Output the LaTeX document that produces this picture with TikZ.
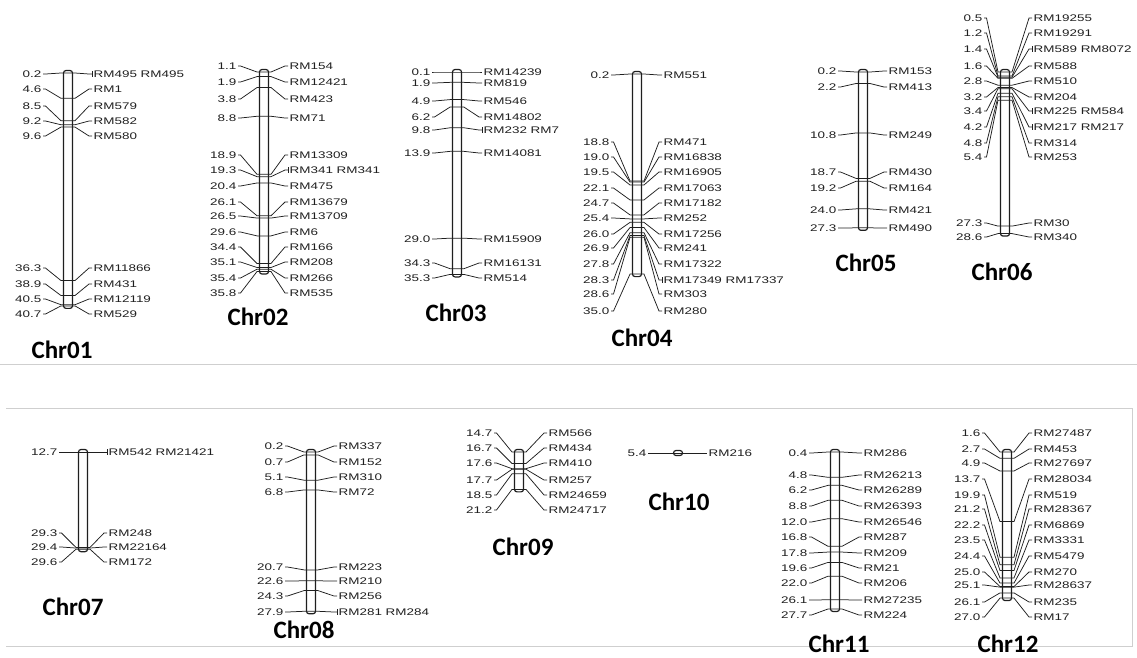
\documentclass[tikz,border=0pt]{standalone}
\usepackage{fontspec}
\newfontfamily\markfont[FakeStretch=1.4]{Liberation Sans}
\newfontfamily\chrfont{Carlito}
\usepackage{xcolor}
\definecolor{ink}{HTML}{1F1F1F}
\definecolor{panelgray}{HTML}{CFCFCF}
\usetikzlibrary{calc}

\tikzset{
	chrbar/.style={draw=ink, line width=1.2pt, fill=white, rounded corners=2.5pt},
	maplink/.style={draw=ink, line width=0.75pt},
	cmlabel/.style={font=\markfont\fontsize{9.6}{10}\selectfont, text=ink, inner sep=1.5pt, anchor=east},
	rmlabel/.style={font=\markfont\fontsize{9.6}{10}\selectfont, text=ink, inner sep=1.5pt, anchor=west},
	chrname/.style={font=\chrfont\bfseries\fontsize{25}{28}\selectfont, text=black, inner sep=0pt}
}

% #1 id, #2 bar x, #3 cM labels right edge, #4 marker labels left edge,
% #5 y of first marker, #6 first cM, #7 last cM, #8 cM/label y/marker/tick
\newcommand{\linkmap}[8]{%
	\pgfmathsetmacro\ybot{#5+5.75*(#7-#6)}
	\draw[chrbar] (#2-4.5,#5-2.5) rectangle (#2+4.5,\ybot+2.5);
	\foreach \vcm/\vly/\vname/\vtick [count=\i] in {#8} {
		\pgfmathsetmacro\my{#5+5.75*(\vcm-#6)}
		\node[cmlabel] (#1n\i) at (#3,\vly) {\vcm};
		\node[rmlabel] (#1m\i) at (#4,\vly) {\vname};
		\draw[maplink] (#1n\i.east) -- ++(2.5,0) -- (#2-7,\my) -- (#2+7,\my) -- ([xshift=-3pt]#1m\i.west) -- (#1m\i.west);
		\ifnum\vtick=1
			\draw[maplink] ([yshift=3pt]#1m\i.west) -- ([yshift=-3pt]#1m\i.west);
		\fi
	}
}

\begin{document}
\begin{tikzpicture}[x=1pt, y=-1pt]
	\useasboundingbox (0,0) rectangle (1137,657);

	% Panel rules
	\draw[panelgray, line width=0.8pt] (0,364) -- (1137,364);
	\draw[panelgray, line width=0.8pt] (6,408) -- (1132,408) -- (1132,646) -- (6,646);

	% Upper row
	\linkmap{c01}{68}{43}{92}{73}{0.2}{40.7}{0.2/74/{RM495 RM495}/1, 4.6/89/RM1/0, 8.5/106/RM579/0, 9.2/121/RM582/0, 9.6/136/RM580/0, 36.3/268/RM11866/0, 38.9/284/RM431/0, 40.5/299/RM12119/0, 40.7/314/RM529/0}
	\linkmap{c02}{264}{238}{288}{72}{1.1}{35.8}{1.1/66/RM154/0, 1.9/82/RM12421/0, 3.8/99/RM423/0, 8.8/118/RM71/0, 18.9/155/RM13309/0, 19.3/170/{RM341 RM341}/1, 20.4/186/RM475/0, 26.1/202/RM13679/0, 26.5/216/RM13709/0, 29.6/232/RM6/0, 34.4/247/RM166/0, 35.1/262/RM208/0, 35.4/278/RM266/0, 35.8/293/RM535/0}
	\linkmap{c03}{457}{432}{482}{72}{0.1}{35.3}{0.1/72/RM14239/0, 1.9/83/RM819/0, 4.9/101/RM546/0, 6.2/117/RM14802/0, 9.8/130/{RM232 RM7}/1, 13.9/153/RM14081/0, 29.0/239/RM15909/0, 34.3/263/RM16131/0, 35.3/278/RM514/0}
	\linkmap{c04}{637}{611}{662}{74}{0.2}{35.0}{0.2/75/RM551/0, 18.8/142/RM471/0, 19.0/157/RM16838/0, 19.5/172/RM16905/0, 22.1/188/RM17063/0, 24.7/203/RM17182/0, 25.4/218/RM252/0, 26.0/234/RM17256/0, 26.9/248/RM241/0, 27.8/264/RM17322/0, 28.3/280/{RM17349 RM17337}/1, 28.6/294/RM303/0, 35.0/311/RM280/0}
	\linkmap{c05}{863}{838}{887}{72}{0.2}{27.3}{0.2/71/RM153/0, 2.2/87/RM413/0, 10.8/135/RM249/0, 18.7/172/RM430/0, 19.2/188/RM164/0, 24.0/210/RM421/0, 27.3/228/RM490/0}
	\linkmap{c06}{1005}{984}{1032}{72}{0.5}{28.6}{0.5/18/RM19255/0, 1.2/33/RM19291/0, 1.4/49/{RM589 RM8072}/1, 1.6/66/RM588/0, 2.8/81/RM510/0, 3.2/97/RM204/0, 3.4/111/{RM225 RM584}/1, 4.2/127/{RM217 RM217}/1, 4.8/143/RM314/0, 5.4/157/RM253/0, 27.3/223/RM30/0, 28.6/237/RM340/0}

	% Lower row
	\linkmap{c07}{83}{59}{107}{452}{12.7}{29.6}{12.7/452/{RM542 RM21421}/1, 29.3/533/RM248/0, 29.4/547/RM22164/0, 29.6/562/RM172/0}
	\linkmap{c08}{311}{285}{337}{452}{0.2}{27.9}{0.2/446/RM337/0, 0.7/462/RM152/0, 5.1/477/RM310/0, 6.8/492/RM72/0, 20.7/567/RM223/0, 22.6/581/RM210/0, 24.3/596/RM256/0, 27.9/612/{RM281 RM284}/1}
	\linkmap{c09}{519}{494}{547}{452}{14.7}{21.2}{14.7/433/RM566/0, 16.7/448/RM434/0, 17.6/463/RM410/0, 17.7/480/RM257/0, 18.5/495/RM24659/0, 21.2/510/RM24717/0}
	\linkmap{c10}{678}{648}{707}{453}{5.4}{5.4}{5.4/453/RM216/0}
	\linkmap{c11}{835}{809}{862}{452}{0.4}{27.7}{0.4/453/RM286/0, 4.8/475/RM26213/0, 6.2/490/RM26289/0, 8.8/506/RM26393/0, 12.0/522/RM26546/0, 16.8/537/RM287/0, 17.8/553/RM209/0, 19.6/568/RM21/0, 22.0/583/RM206/0, 26.1/600/RM27235/0, 27.7/615/RM224/0}
	\linkmap{c12}{1007}{982}{1032}{452}{1.6}{27.0}{1.6/433/RM27487/0, 2.7/449/RM453/0, 4.9/463/RM27697/0, 13.7/479/RM28034/0, 19.9/495/RM519/0, 21.2/509/RM28367/0, 22.2/525/RM6869/0, 23.5/540/RM3331/0, 24.4/556/RM5479/0, 25.0/572/RM270/0, 25.1/585/RM28637/0, 26.1/602/RM235/0, 27.0/617/RM17/0}

	% Chromosome names
	\foreach \cname/\cx/\cy in {01/62/350, 02/258/317, 03/456/313, 04/642/338, 05/866/263, 06/1002/272, 07/73/607, 08/304/630, 09/523/547, 10/679/502, 11/839/644, 12/1008/644} {
		\node[chrname] (chr\cname) at (\cx,\cy) {Chr\cname};
	}
\end{tikzpicture}
\end{document}
